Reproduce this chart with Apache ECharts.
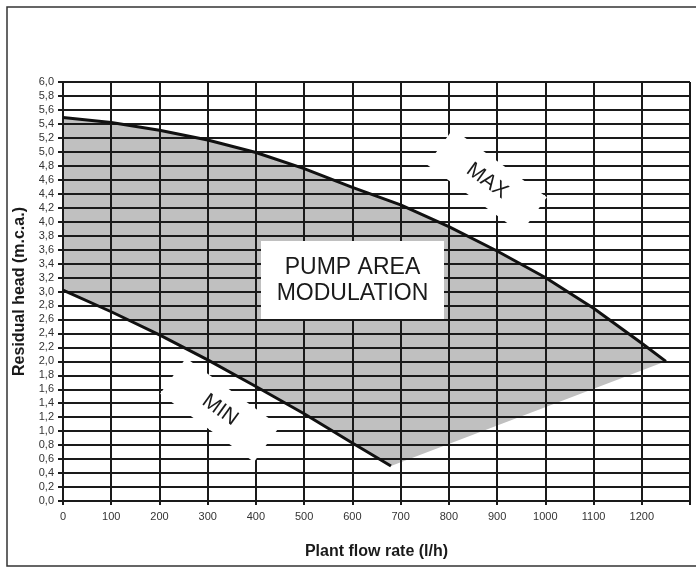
<!DOCTYPE html>
<html><head><meta charset="utf-8">
<script src="https://cdn.jsdelivr.net/npm/echarts@6/dist/echarts.min.js"></script>
<style>html,body{margin:0;padding:0;background:#fff}#c{width:696px;height:574px}</style>
</head><body><div id="c"></div>
<script>
// MAX curve (flow l/h, residual head m.c.a.)
const maxFlow = [0, 100, 200, 300, 400, 500, 600, 700, 800, 900, 1000, 1100, 1200, 1250];
const maxHead = [5.49, 5.42, 5.31, 5.17, 4.99, 4.76, 4.49, 4.24, 3.93, 3.58, 3.20, 2.76, 2.26, 2.00];
// MIN curve
const minFlow = [0, 100, 200, 300, 400, 500, 600, 680];
const minHead = [3.02, 2.71, 2.38, 2.02, 1.64, 1.25, 0.83, 0.50];
// tick labels
const xTickLabels = ['0','100','200','300','400','500','600','700','800','900','1000','1100','1200'];
const yTickLabels = ['0,0','0,2','0,4','0,6','0,8','1,0','1,2','1,4','1,6','1,8','2,0','2,2','2,4','2,6','2,8','3,0','3,2','3,4','3,6','3,8','4,0','4,2','4,4','4,6','4,8','5,0','5,2','5,4','5,6','5,8','6,0'];
const xName = 'Plant flow rate (l/h)';
const yName = 'Residual head (m.c.a.)';
const areaText = 'PUMP AREA\nMODULATION';

const maxData = maxFlow.map((x, i) => [x, maxHead[i]]);
const minData = minFlow.map((x, i) => [x, minHead[i]]);
// area polygon: along MAX, then straight to MIN end, back along MIN
const polyData = maxData.concat(minData.slice().reverse());

const FONT = '"Liberation Sans", Arial, Helvetica, sans-serif';
const chart = echarts.init(document.getElementById('c'), null, {renderer: 'canvas'});
const rot = -36 * Math.PI / 180;
chart.setOption({
  animation: false,
  backgroundColor: '#fff',
  grid: {left: 63, right: 6, top: 82, bottom: 73, containLabel: false},
  xAxis: {
    type: 'value', min: 0, max: 1300, interval: 100, z: 5,
    name: xName, nameLocation: 'middle', nameGap: 43,
    nameTextStyle: {fontFamily: FONT, fontWeight: 'bold', fontSize: 16, color: '#1a1a1a'},
    axisLine: {show: true, lineStyle: {color: '#1a1a1a', width: 2}},
    axisTick: {show: true, length: 4, lineStyle: {color: '#1a1a1a', width: 2}},
    axisLabel: {margin: 10, fontFamily: FONT, fontSize: 11, color: '#333',
      formatter: v => { const i = Math.round(v / 100); return i < xTickLabels.length ? xTickLabels[i] : ''; }},
    splitLine: {show: true, lineStyle: {color: '#1a1a1a', width: 2}}
  },
  yAxis: {
    type: 'value', min: 0, max: 6, interval: 0.2, z: 5,
    name: yName, nameLocation: 'middle', nameGap: 35,
    nameTextStyle: {fontFamily: FONT, fontWeight: 'bold', fontSize: 16, color: '#1a1a1a'},
    axisLine: {show: true, lineStyle: {color: '#1a1a1a', width: 2}},
    axisTick: {show: true, length: 5, lineStyle: {color: '#1a1a1a', width: 2}},
    axisLabel: {margin: 9, fontFamily: FONT, fontSize: 11, color: '#333',
      formatter: v => yTickLabels[Math.round(v / 0.2)] || ''},
    splitLine: {show: true, lineStyle: {color: '#1a1a1a', width: 2}}
  },
  series: [
    {
      type: 'custom', z: 1, silent: true,
      data: polyData,
      renderItem: (params, api) => {
        if (params.dataIndex !== 0) return null;
        const pts = polyData.map(p => api.coord(p));
        return {type: 'polygon', shape: {points: pts}, style: {fill: '#c0c0c0', stroke: null}};
      }
    },
    {type: 'line', z: 30, data: maxData, symbol: 'none', smooth: false,
      lineStyle: {color: '#111', width: 3}},
    {type: 'line', z: 30, data: minData, symbol: 'none', smooth: false,
      lineStyle: {color: '#111', width: 3}}
  ],
  graphic: [
    {type: 'rect', z: 1, x: 0, y: 0, shape: {x: 7, y: 7, width: 700, height: 559},
      style: {fill: null, stroke: '#333', lineWidth: 1.5}},
    {type: 'rect', z: 20, x: 261, y: 241, shape: {width: 183, height: 78}, style: {fill: '#fff'}},
    {type: 'text', z: 21, x: 352.5, y: 281, style: {text: areaText, font: '23px ' + FONT, fill: '#1a1a1a',
      textAlign: 'center', textVerticalAlign: 'middle', lineHeight: 26}},
    {type: 'group', z: 20, x: 487, y: 181, rotation: rot, children: [
      {type: 'rect', z: 20, shape: {x: -58, y: -22, width: 116, height: 44}, style: {fill: '#fff'}},
      {type: 'text', z: 21, style: {text: 'MAX', x: 0, y: 0, font: '21px ' + FONT, fill: '#1a1a1a',
        textAlign: 'center', textVerticalAlign: 'middle'}}
    ]},
    {type: 'group', z: 20, x: 220, y: 410, rotation: rot, children: [
      {type: 'rect', z: 20, shape: {x: -58, y: -22, width: 116, height: 44}, style: {fill: '#fff'}},
      {type: 'text', z: 21, style: {text: 'MIN', x: 0, y: 0, font: '21px ' + FONT, fill: '#1a1a1a',
        textAlign: 'center', textVerticalAlign: 'middle'}}
    ]}
  ]
});
</script></body></html>
